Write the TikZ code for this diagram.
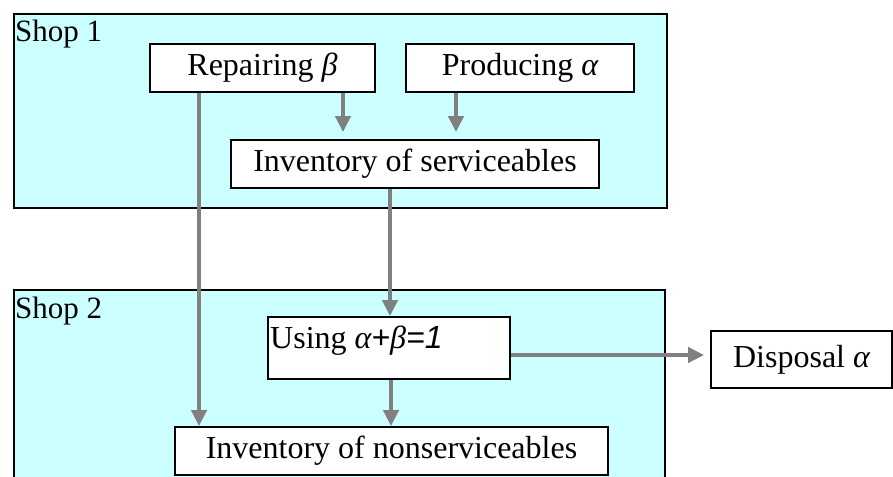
\documentclass[tikz,border=0pt]{standalone}
\usepackage{fontspec}
\setmainfont{Liberation Serif}
\setsansfont{Liberation Sans}
\usetikzlibrary{arrows.meta}
\definecolor{shopcyan}{HTML}{CCFFFF}
\definecolor{arrgray}{HTML}{808080}
\newcommand{\gk}[1]{{\itshape #1}}
\tikzset{
  shopbox/.style={draw=black, line width=1.6pt, fill=shopcyan},
  procbox/.style={draw=black, line width=1.8pt, fill=white, inner sep=0pt},
  flow/.style={draw=arrgray, line width=4pt, -{Triangle[length=16pt,width=15pt]}},
  shoplabel/.style={anchor=north west, inner sep=0pt}
}
\begin{document}
\begin{tikzpicture}[x=1pt,y=-1pt,font=\fontsize{32}{38}\selectfont]
\useasboundingbox (0,0) rectangle (893,476);
\clip (0,0) rectangle (893,476);
% shops
\draw[shopbox] (14,14) rectangle (667,208);
\draw[shopbox] (14,290) rectangle (665,500);
\node[shoplabel, font=\fontsize{31}{36}\selectfont] (s1) at (15,20) {Shop 1};
\node[shoplabel, font=\fontsize{31}{36}\selectfont] (s2) at (15,297) {Shop 2};
% process boxes
\node[procbox, minimum width=225pt, minimum height=48pt] (rep) at (262.5,68) {Repairing \gk{β}};
\node[procbox, minimum width=228pt, minimum height=48pt] (prod) at (520,68) {Producing \gk{α}};
\node[procbox, minimum width=368pt, minimum height=48pt] (invs) at (415,164) {Inventory of serviceables};
\node[procbox, minimum width=242pt, minimum height=62pt] (use) at (389,348) {};
\node[anchor=west, inner sep=0pt] (usetxt) at (270,341) {Using \gk{α}{\sffamily\itshape +}\gk{β}{\sffamily\itshape =1}};
\node[procbox, minimum width=433pt, minimum height=48pt] (invn) at (391.5,451) {Inventory of nonserviceables};
\node[procbox, minimum width=181pt, minimum height=57pt] (disp) at (801.5,359.5) {Disposal \gk{α}};
% connectors
\draw[flow, shorten >=7pt] (rep.south -| 343,0) -- (invs.north -| 343,0);
\draw[flow, shorten >=7pt] (prod.south -| 456,0) -- (invs.north -| 456,0);
\draw[flow] (rep.south -| 199,0) -- (invn.north -| 199,0);
\draw[flow] (invs.south -| 390,0) -- (use.north -| 390,0);
\draw[flow] (use.south -| 391,0) -- (invn.north -| 391,0);
\draw[flow, shorten >=6pt] (use.east |- 0,355) -- (disp.west |- 0,355);
\end{tikzpicture}
\end{document}
